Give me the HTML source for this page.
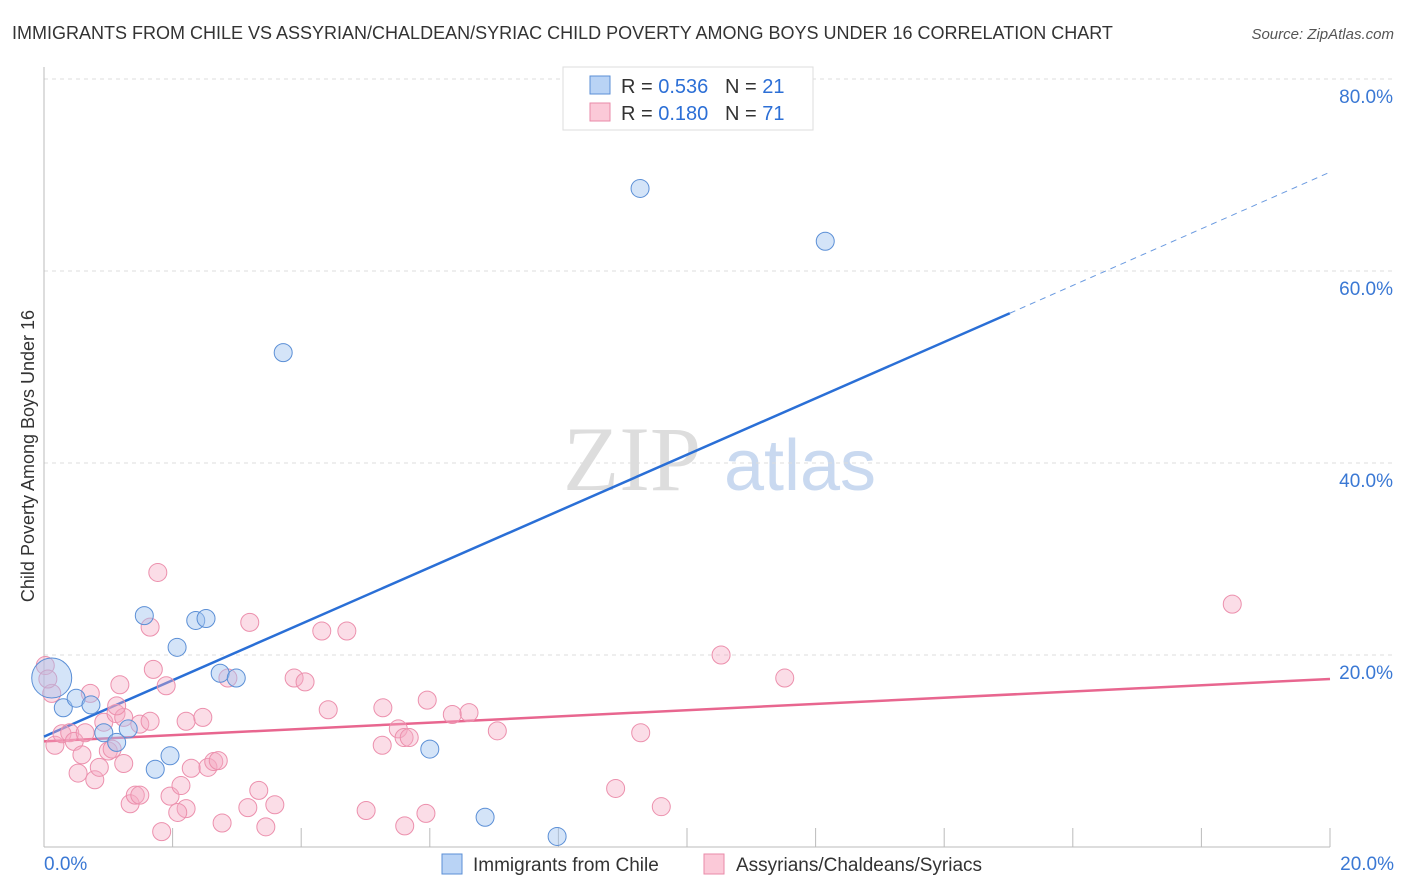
<!DOCTYPE html>
<html><head><meta charset="utf-8"><style>
body{margin:0;background:#fff;font-family:"Liberation Sans",sans-serif}
svg{display:block}
</style></head><body>
<svg width="1406" height="892" xmlns="http://www.w3.org/2000/svg">
<text x="12" y="39" font-size="18" fill="#333">IMMIGRANTS FROM CHILE VS ASSYRIAN/CHALDEAN/SYRIAC CHILD POVERTY AMONG BOYS UNDER 16 CORRELATION CHART</text>
<text x="1394" y="39" font-size="15" fill="#555" font-style="italic" text-anchor="end">Source: ZipAtlas.com</text>
<g>
<text x="632" y="490" font-size="92" fill="#ddd" font-family="Liberation Serif,serif" text-anchor="middle">ZIP</text>
<text x="800" y="490" font-size="72" fill="#c9d9f0" text-anchor="middle">atlas</text></g>
<g id="grid"></g><g id="axes"></g><g id="lines"></g><g id="pts"></g>
<text transform="translate(34,456) rotate(-90)" font-size="18" fill="#333" text-anchor="middle">Child Poverty Among Boys Under 16</text>
<g>
<rect x="563" y="67" width="250" height="63" fill="#fff" stroke="#ddd"/>
<rect x="590" y="76" width="20" height="18" fill="#b9d3f5" stroke="#5b8fd6"/>
<rect x="590" y="103" width="20" height="18" fill="#fbc9d8" stroke="#e98aa8"/>
<text x="621" y="93" font-size="20" fill="#333">R = <tspan fill="#2c6fd6">0.536</tspan>&#160;&#160;&#160;N = <tspan fill="#2c6fd6">21</tspan></text>
<text x="621" y="120" font-size="20" fill="#333">R = <tspan fill="#2c6fd6">0.180</tspan>&#160;&#160;&#160;N = <tspan fill="#2c6fd6">71</tspan></text></g>
<g>
<rect x="442" y="854" width="20" height="20" fill="#b9d3f5" stroke="#5b8fd6"/>
<text x="473" y="871" font-size="19" fill="#333">Immigrants from Chile</text>
<rect x="704" y="854" width="20" height="20" fill="#fbc9d8" stroke="#e98aa8"/>
<text x="736" y="871" font-size="19" fill="#333">Assyrians/Chaldeans/Syriacs</text></g>
</svg>
<script>
const yTicks=[20,40,60,80];
const xTickLabels=["0.0%","20.0%"];
const blueX=[0.12,0.3,0.5,0.73,0.93,1.13,1.31,1.56,1.73,1.96,2.07,2.36,2.52,2.74,2.99,3.72,6.0,6.86,7.98,9.27,12.15];
const blueY=[17.6,14.5,15.5,14.8,11.9,10.9,12.3,24.1,8.1,9.5,20.8,23.6,23.8,18.1,17.6,51.5,10.2,3.1,1.1,68.6,63.1];
const blueR=[20,9,9,9,9,9,9,9,9,9,9,9,9,9,9,9,9,9,9,9,9];
const pinkX=[0.12,0.17,0.28,0.4,0.47,0.53,0.59,0.72,0.64,0.79,0.86,0.93,1.0,1.06,1.12,1.18,1.24,1.24,1.34,1.42,1.49,1.49,1.65,1.65,1.70,1.77,1.83,1.90,1.96,2.13,2.21,2.21,2.29,2.47,2.55,2.64,2.71,2.77,2.86,3.2,3.17,3.34,3.45,3.59,3.89,4.06,4.32,4.42,4.71,5.01,5.26,5.27,5.51,5.6,5.68,5.61,5.94,5.96,6.35,6.61,7.05,8.89,9.28,9.6,10.53,11.52,18.48,0.02,0.06,1.13,2.08];
const pinkY=[16.0,10.6,11.8,11.9,11.0,7.7,9.6,16.0,11.9,7.0,8.3,13.0,10.0,10.2,13.9,16.9,13.5,8.7,4.5,5.4,5.4,12.8,13.1,22.9,18.5,28.6,1.6,16.8,5.3,6.4,13.1,4.0,8.2,13.5,8.3,8.9,9.0,2.5,17.6,23.4,4.1,5.9,2.1,4.4,17.6,17.2,22.5,14.3,22.5,3.8,10.6,14.5,12.3,11.4,11.4,2.2,3.5,15.3,13.8,14.0,12.1,6.1,11.9,4.2,20.0,17.6,25.3,18.9,17.5,14.7,3.6];
const blueLine=[[0,11.5],[15.02,55.6]];
const blueDash=[[15.02,55.6],[20,70.3]];
const pinkLine=[[0,11.0],[20,17.5]];
const NS="http://www.w3.org/2000/svg";
const X=v=>44+v/20*1286, Y=v=>847-v/80*768;
function mk(t,a,p){const e=document.createElementNS(NS,t);for(const k in a)e.setAttribute(k,a[k]);document.getElementById(p).appendChild(e);return e;}
yTicks.forEach(t=>{
 const l=mk('line',{x1:44,x2:1394,y1:Y(t),y2:Y(t),stroke:'#ddd','stroke-dasharray':'4,4'},'grid');
 
 
 const tx=mk('text',{x:1393,y:Y(t)+24,'font-size':19,fill:'#3a78d4','text-anchor':'end'},'grid');
 tx.textContent=t.toFixed(1)+'%';
 
 
});
const xa=mk('line',{x1:44,x2:1330,y1:847,y2:847,stroke:'#bbb'},'axes');


const ya=mk('line',{x1:44,x2:44,y1:67,y2:847,stroke:'#bbb'},'axes');


for(let i=1;i<=10;i++){const v=i*2;const t=mk('line',{x1:X(v),x2:X(v),y1:828,y2:847,stroke:'#bbb'},'axes');
 
 }
xTickLabels.forEach((s,i)=>{const t=mk('text',{x:i?1394:44,y:870,'font-size':19,fill:'#3a78d4','text-anchor':i?'end':'start'},'axes');t.textContent=s;
 
 });
function ln(p,c,dash,name,w){const l=mk('line',{x1:X(p[0][0]),y1:Y(p[0][1]),x2:X(p[1][0]),y2:Y(p[1][1]),stroke:c,'stroke-width':w},'lines');if(dash)l.setAttribute('stroke-dasharray',dash);
 
 }
pinkX.forEach((x,i)=>{const c=mk('circle',{cx:X(x),cy:Y(pinkY[i]),r:9,fill:'rgba(246,170,195,0.4)',stroke:'#ec90ad','stroke-width':1},'pts');
 
 });
blueX.forEach((x,i)=>{const c=mk('circle',{cx:X(x),cy:Y(blueY[i]),r:blueR[i],fill:'rgba(160,195,240,0.45)',stroke:'#5b8fd6','stroke-width':1},'pts');
 
 });
ln(blueLine,'#2a6fd6',null,'chile-trend-line',2.5);
ln(blueDash,'#6a9ae0','6,5','chile-trend-extension',1);
ln(pinkLine,'#e8668f',null,'assyrian-trend-line',2.5);
</script>
</body></html>
